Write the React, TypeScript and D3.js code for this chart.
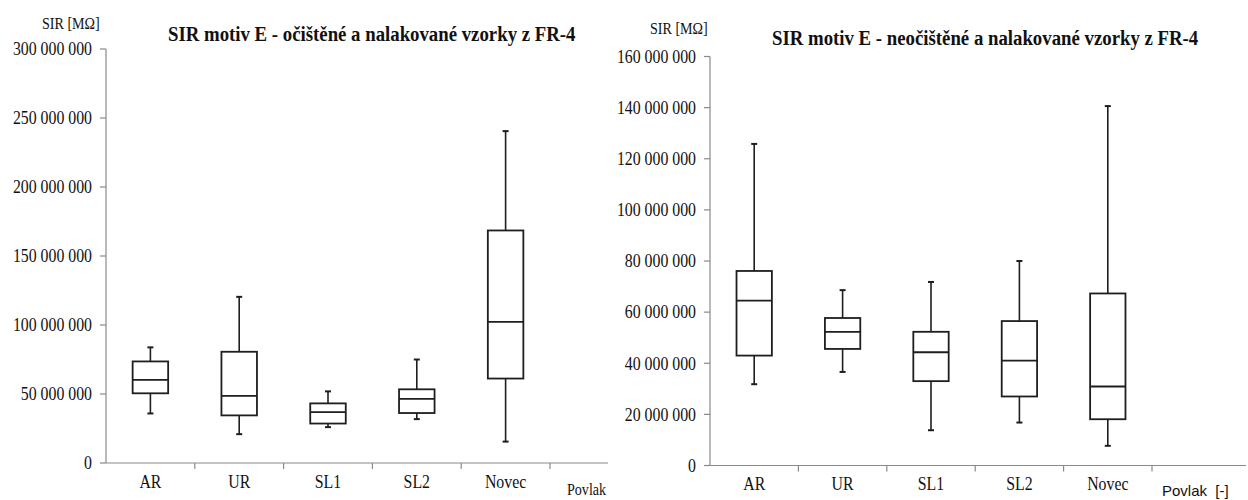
import React from "react";
import * as d3 from "d3";

const categories = ["AR", "UR", "SL1", "SL2", "Novec"];

// [low whisker, Q1, median, Q3, high whisker] in MΩ (millions shown as raw values)
const leftLow = [35.9e6, 34.5e6, 26.0e6, 31.8e6, 15.5e6];
const leftQ1 = [50.5e6, 34.5e6, 28.6e6, 36.2e6, 61.2e6];
const leftMedian = [60.2e6, 48.6e6, 36.9e6, 46.4e6, 102.2e6];
const leftQ3 = [73.6e6, 80.6e6, 43.2e6, 53.4e6, 168.5e6];
const leftHigh = [83.8e6, 120.4e6, 51.9e6, 75.0e6, 240.5e6];
const leftLowFix = [35.9e6, 20.9e6, 26.0e6, 31.8e6, 15.5e6];

const rightLow = [31.8e6, 36.6e6, 13.8e6, 16.8e6, 7.7e6];
const rightQ1 = [43.0e6, 45.6e6, 33.0e6, 27.0e6, 18.1e6];
const rightMedian = [64.5e6, 52.3e6, 44.3e6, 41.0e6, 30.9e6];
const rightQ3 = [76.1e6, 57.7e6, 52.3e6, 56.5e6, 67.3e6];
const rightHigh = [125.8e6, 68.6e6, 71.8e6, 80.0e6, 140.6e6];

const leftTicks = [0, 50e6, 100e6, 150e6, 200e6, 250e6, 300e6];
const rightTicks = [0, 20e6, 40e6, 60e6, 80e6, 100e6, 120e6, 140e6, 160e6];

const leftTitle = "SIR motiv E - očištěné a nalakované vzorky z FR-4";
const rightTitle = "SIR motiv E - neočištěné a nalakované vzorky z FR-4";
const yAxisTitle = "SIR [MΩ]";
const leftXTitle = "Povlak";
const rightXTitle = "Povlak  [-]";

const fmt = (v: number) => d3.format(",")(v).replace(/,/g, " ");
const SERIF = "'Liberation Serif', 'Times New Roman', serif";
const SANS = "'Liberation Sans', Arial, sans-serif";
const SX = 0.88;

type Cfg = {
  x0: number; x1: number; axisEnd: number; yBottom: number; yTop: number;
  yMax: number; ticks: number[];
  low: number[]; q1: number[]; med: number[]; q3: number[]; high: number[];
  title: string; titleX: number; titleY: number; titleSX: number;
  yTitleX: number; yTitleY: number;
  xTitle: string; xTitleX: number; xTitleY: number; xTitleFont: string; xTitleSize: number; xTitleSX: number;
  catY: number;
};

function Chart({ c }: { c: Cfg }) {
  const x = d3.scaleBand<string>().domain(categories).range([c.x0, c.x1]).paddingInner(0).paddingOuter(0);
  const y = d3.scaleLinear().domain([0, c.yMax]).range([c.yBottom, c.yTop]);
  const bw = x.bandwidth() * 0.4;
  const cap = 6;
  const axisColor = "#8a8a8a";
  const boxColor = "#1e1e1e";
  return (
    <g>
      {/* y axis */}
      <line x1={c.x0} x2={c.x0} y1={y(c.yMax)} y2={c.yBottom} stroke={axisColor} strokeWidth={1.2} />
      {c.ticks.map((t) => (
        <g key={t}>
          <line x1={c.x0 - 6} x2={c.x0} y1={y(t)} y2={y(t)} stroke={axisColor} strokeWidth={1.2} />
          <text transform={`translate(${c.x0 - 14},${y(t)}) scale(${SX},1)`} dy="0.35em" textAnchor="end"
            fontFamily={SERIF} fontSize={18} fill="#111">{fmt(t)}</text>
        </g>
      ))}
      {/* x axis */}
      <line x1={c.x0} x2={c.axisEnd} y1={c.yBottom} y2={c.yBottom} stroke={axisColor} strokeWidth={1.2} />
      {categories.map((cat) => (
        <line key={cat} x1={(x(cat) as number) + x.bandwidth()} x2={(x(cat) as number) + x.bandwidth()}
          y1={c.yBottom} y2={c.yBottom + 6} stroke={axisColor} strokeWidth={1.2} />
      ))}
      {categories.map((cat) => (
        <text key={cat} transform={`translate(${(x(cat) as number) + x.bandwidth() / 2},${c.catY}) scale(${SX},1)`}
          textAnchor="middle" fontFamily={SERIF} fontSize={18} fill="#111">{cat}</text>
      ))}
      {/* boxes */}
      {categories.map((cat, i) => {
        const cx = (x(cat) as number) + x.bandwidth() / 2;
        return (
          <g key={cat} stroke={boxColor} fill="none">
            <line x1={cx} x2={cx} y1={y(c.high[i])} y2={y(c.q3[i])} strokeWidth={1.6} />
            <line x1={cx} x2={cx} y1={y(c.q1[i])} y2={y(c.low[i])} strokeWidth={1.6} />
            <line x1={cx - cap / 2} x2={cx + cap / 2} y1={y(c.high[i])} y2={y(c.high[i])} strokeWidth={2} />
            <line x1={cx - cap / 2} x2={cx + cap / 2} y1={y(c.low[i])} y2={y(c.low[i])} strokeWidth={2} />
            <rect x={cx - bw / 2} width={bw} y={y(c.q3[i])} height={y(c.q1[i]) - y(c.q3[i])} fill="#fff" strokeWidth={1.8} />
            <line x1={cx - bw / 2} x2={cx + bw / 2} y1={y(c.med[i])} y2={y(c.med[i])} strokeWidth={1.8} />
          </g>
        );
      })}
      {/* titles */}
      <text transform={`translate(${c.titleX},${c.titleY}) scale(${c.titleSX},1)`} fontFamily={SERIF} fontSize={20}
        fontWeight="bold" fill="#111" style={{ whiteSpace: "pre" }}>{c.title}</text>
      <text transform={`translate(${c.yTitleX},${c.yTitleY}) scale(${SX},1)`} dy="0.35em" fontFamily={SERIF} fontSize={16}
        fill="#111">{yAxisTitle}</text>
      <text transform={`translate(${c.xTitleX},${c.xTitleY}) scale(${c.xTitleSX},1)`} fontFamily={c.xTitleFont}
        fontSize={c.xTitleSize} fill="#111" style={{ whiteSpace: "pre" }}>{c.xTitle}</text>
    </g>
  );
}

export default function App() {
  const left: Cfg = {
    x0: 106, x1: 550, axisEnd: 608, yBottom: 463, yTop: 49, yMax: 300e6, ticks: leftTicks,
    low: leftLowFix, q1: leftQ1, med: leftMedian, q3: leftQ3, high: leftHigh,
    title: leftTitle, titleX: 168, titleY: 41, titleSX: 0.94,
    yTitleX: 42, yTitleY: 23,
    xTitle: leftXTitle, xTitleX: 567, xTitleY: 495, xTitleFont: SERIF, xTitleSize: 16, xTitleSX: SX,
    catY: 488,
  };
  const right: Cfg = {
    x0: 710, x1: 1152, axisEnd: 1246, yBottom: 465.5, yTop: 56.5, yMax: 160e6, ticks: rightTicks,
    low: rightLow, q1: rightQ1, med: rightMedian, q3: rightQ3, high: rightHigh,
    title: rightTitle, titleX: 772, titleY: 45, titleSX: 0.94,
    yTitleX: 650, yTitleY: 28,
    xTitle: rightXTitle, xTitleX: 1162, xTitleY: 496, xTitleFont: SANS, xTitleSize: 15, xTitleSX: 1,
    catY: 490,
  };
  void leftLow;
  return (
    <svg width={1248} height={500} style={{ position: "absolute", left: 0, top: 0, background: "#fff" }}>
      <rect width={1248} height={500} fill="#fff" />
      <Chart c={left} />
      <Chart c={right} />
    </svg>
  );
}
